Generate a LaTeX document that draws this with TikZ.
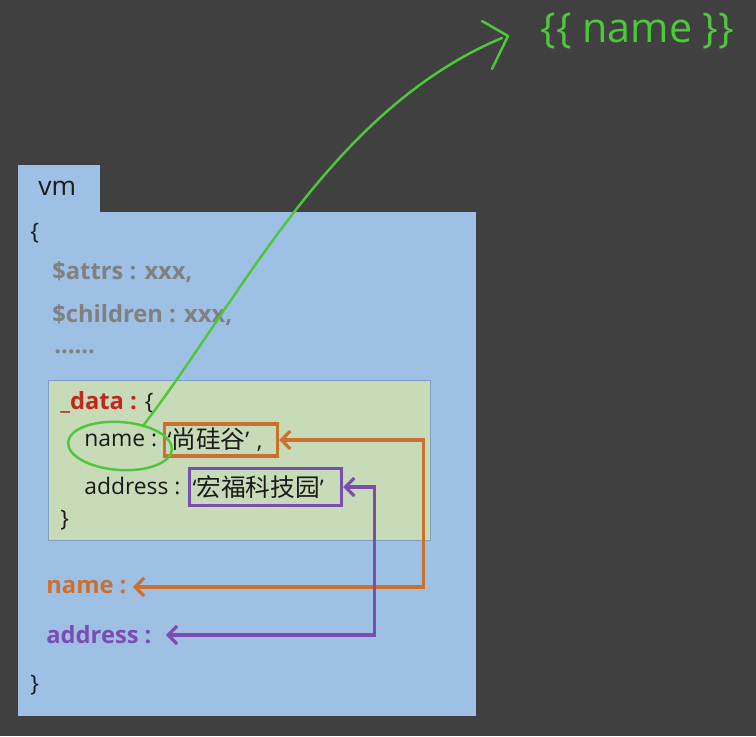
\documentclass[tikz,border=0pt]{standalone}
\usepackage{fontspec}
\setmainfont{Open Sans}
\newfontfamily\cjk{Noto Sans CJK SC}[Scale=1.08]
\usetikzlibrary{arrows.meta, positioning, calc}
\definecolor{slidebg}{HTML}{404040}
\definecolor{vmblue}{HTML}{9DC0E4}
\definecolor{databg}{HTML}{C8DBB9}
\definecolor{databorder}{HTML}{7E9EC4}
\definecolor{codeblack}{HTML}{1A1A1A}
\definecolor{membergray}{HTML}{808080}
\definecolor{datared}{HTML}{C0281E}
\definecolor{linkorange}{HTML}{CC7030}
\definecolor{linkpurple}{HTML}{7B4DB0}
\definecolor{pengreen}{HTML}{4DC83A}
\tikzset{
	panel/.style={rectangle, fill=vmblue, draw=none, inner sep=0pt, anchor=north west},
	code/.style={anchor=west, inner sep=0pt, text=codeblack, font=\fontsize{13}{16}\selectfont},
	member/.style={code, font=\bfseries\fontsize{13.5}{16}\selectfont},
	valuebox/.style={rectangle, draw, line width=1.8pt, anchor=west, inner xsep=0.06cm, inner ysep=0pt, align=left, text=codeblack, font=\fontsize{13}{16}\selectfont},
	link/.style={draw, line width=1.8pt},
	pen/.style={draw=pengreen, line width=1.4pt, line cap=round, line join=round}
}

\begin{document}
\begin{tikzpicture}[
	x=0.02cm, y=-0.02cm,
	>={Straight Barb[length=1.8mm, width=3.6mm]}
	]
	
	% slide background
	\fill[slidebg] (0,0) rectangle (756,736);
	\useasboundingbox (0,0) rectangle (756,736);
	
	% vm panel with its tab
	\node[panel, minimum width=1.64cm, minimum height=0.98cm] (vm_tab) at (18,165) {};
	\node[panel, minimum width=9.16cm, minimum height=10.08cm] (vm_box) at (18,212) {};
	\node[code, font=\fontsize{15}{18}\selectfont] (vm_title) at (38,188) {vm};
	
	% members of vm
	\node[code] (open_brace) at (30,233) {\{};
	\node[member, text=membergray] (attrs_member) at (52,272) {\$attrs : xxx,};
	\node[member, text=membergray] (children_member) at (52,315) {\$children : xxx,};
	\node[member, text=membergray] (more_members) at (54,352) {......};
	
	%
	% _data block
	%
	\node[panel, fill=databg, draw=databorder, line width=0.8pt, minimum width=7.64cm, minimum height=3.2cm] (data_box) at (48,380) {};
	\node[code] (data_key) at (60,402) {{\bfseries\fontsize{13.5}{16}\selectfont\color{datared}\_data :} \{};
	\node[code] (name_key) at (84,440) {name :};
	\node[valuebox, draw=linkorange, text width=2.14cm, minimum height=0.64cm] (name_value) at (163,440) {‘{\cjk 尚硅谷}’\,\,,};
	\node[code] (address_key) at (84,486) {address :};
	\node[valuebox, draw=linkpurple, text width=2.92cm, minimum height=0.74cm] (address_value) at (188,487) {‘{\cjk 宏福科技园}’};
	\node[code] (data_close) at (60,520) {\}};
	
	% proxied members
	\node[member, text=linkorange] (name_member) at (46,587) {name :};
	\node[member, text=linkpurple] (address_member) at (46,635) {address :};
	\node[code] (close_brace) at (30,685) {\}};
	
	% template in the page
	\node[code, font=\fontsize{23.5}{28}\selectfont, text=pengreen] (template) at (540,31) {\{\{ name \}\}};
	
	% links between _data and vm
	\draw[link, draw=linkorange, <->] (name_value.east) -- ++(144,0) |- ($(name_member.east)+(6,0)$);
	\draw[link, draw=linkpurple, <->] (address_value.east) -- ++(31,0) |- ($(address_member.east)+(14,0)$);
	
	% hand drawn mark from name to the template
	\coordinate (pen_tip) at (502,38);
	\draw[pen, rotate around={-4:(120,446)}] (120,446) ellipse [x radius=52, y radius=24];
	\draw[pen] ($(name_key.north)+(22,-7)$) .. controls (240,300) and (330,110) .. (pen_tip);
	\draw[pen] ($(pen_tip)+(-20,-17)$) -- ($(pen_tip)+(6,-2)$) -- ($(pen_tip)+(-10,31)$);
	
\end{tikzpicture}
\end{document}
